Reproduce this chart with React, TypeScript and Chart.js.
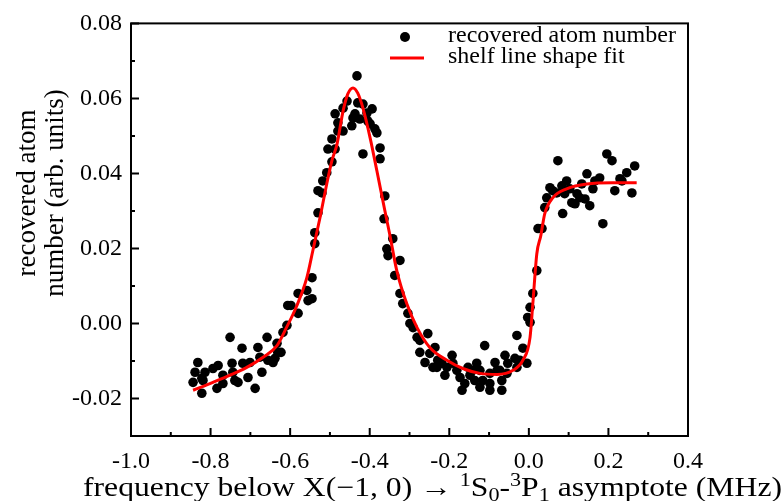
import React, { useEffect, useRef } from "react";
import { Chart, registerables } from "chart.js";

Chart.register(...registerables);

const FONT = "'Liberation Serif', 'Times New Roman', serif";

// axis ticks
const xTickValues = [-1.0, -0.8, -0.6, -0.4, -0.2, 0.0, 0.2, 0.4];
const xMinorTicks = [-0.9, -0.7, -0.5, -0.3, -0.1, 0.1, 0.3];
const yTickValues = [-0.02, 0.0, 0.02, 0.04, 0.06, 0.08];
const yMinorTicks = [-0.03, -0.01, 0.01, 0.03, 0.05, 0.07];

// texts
const legendLabels = ["recovered atom number", "shelf line shape fit"];
const yTitleLines = ["recovered atom", "number (arb. units)"];

// measured data: frequency (MHz) and recovered atom number (arb. units)
const atomFreq = [
  -0.844, -0.839, -0.832, -0.822, -0.822, -0.819, -0.814, -0.794, -0.781, -0.784,
  -0.769, -0.769, -0.751, -0.746, -0.744, -0.739, -0.721, -0.719, -0.731, -0.701,
  -0.706, -0.688, -0.681, -0.676, -0.671, -0.658, -0.656, -0.643, -0.638, -0.633,
  -0.631, -0.623, -0.618, -0.608, -0.606, -0.598, -0.580, -0.580, -0.558, -0.555,
  -0.545, -0.545, -0.538, -0.538, -0.530, -0.530, -0.520, -0.518, -0.508, -0.495,
  -0.505, -0.487, -0.495, -0.480, -0.467, -0.480, -0.487, -0.467, -0.457, -0.445,
  -0.442, -0.437, -0.425, -0.432, -0.430, -0.417, -0.407, -0.394, -0.405, -0.399,
  -0.387, -0.382, -0.417, -0.374, -0.374, -0.362, -0.364, -0.342, -0.357, -0.354,
  -0.324, -0.337, -0.324, -0.317, -0.304, -0.299, -0.291, -0.281, -0.274, -0.254,
  -0.274, -0.261, -0.249, -0.236, -0.229, -0.231, -0.241, -0.219, -0.211, -0.206,
  -0.193, -0.191, -0.181, -0.173, -0.168, -0.161, -0.153, -0.148, -0.141, -0.136,
  -0.131, -0.123, -0.123, -0.116, -0.111, -0.098, -0.098, -0.098, -0.085, -0.080,
  -0.073, -0.068, -0.068, -0.060, -0.055, -0.053, -0.035, -0.030, -0.030, -0.023,
  -0.015, -0.005, -0.003, 0.003, 0.003, 0.010, 0.020, 0.023, 0.033, 0.040,
  0.045, 0.053, 0.060, 0.073, 0.070, 0.083, 0.085, 0.090, 0.095, 0.103,
  0.108, 0.116, 0.121, 0.128, 0.133, 0.141, 0.146, 0.153, 0.161, 0.166,
  0.178, 0.186, 0.196, 0.209, 0.216, 0.229, 0.234, 0.246, 0.259, 0.266,
];
const atomNumber = [
  -0.0157, -0.0130, -0.0104, -0.0146, -0.0186, -0.0152, -0.0130, -0.0120, -0.0112, -0.0173,
  -0.0138, -0.0160, -0.0037, -0.0106, -0.0130, -0.0152, -0.0066, -0.0106, -0.0157, -0.0104,
  -0.0144, -0.0173, -0.0064, -0.0090, -0.0130, -0.0037, -0.0098, -0.0104, -0.0093, -0.0053,
  -0.0077, -0.0077, -0.0024, -0.0005, 0.0048, 0.0048, 0.0027, 0.0080, 0.0088, 0.0061,
  0.0066, 0.0122, 0.0213, 0.0242, 0.0295, 0.0354, 0.0348, 0.0380, 0.0402, 0.0431,
  0.0465, 0.0465, 0.0492, 0.0513, 0.0513, 0.0535, 0.0559, 0.0574, 0.0593, 0.0527,
  0.0548, 0.0559, 0.0545, 0.0660, 0.0588, 0.0585, 0.0561, 0.0572, 0.0540, 0.0532,
  0.0519, 0.0508, 0.0452, 0.0468, 0.0439, 0.0340, 0.0279, 0.0226, 0.0199, 0.0181,
  0.0168, 0.0128, 0.0080, 0.0053, 0.0027, 0.0000, -0.0011, -0.0037, -0.0045, -0.0027,
  -0.0077, -0.0104, -0.0080, -0.0064, -0.0098, -0.0117, -0.0117, -0.0106, -0.0138, -0.0117,
  -0.0085, -0.0106, -0.0125, -0.0144, -0.0178, -0.0160, -0.0117, -0.0138, -0.0125, -0.0152,
  -0.0106, -0.0125, -0.0170, -0.0152, -0.0059, -0.0133, -0.0160, -0.0178, -0.0104, -0.0125,
  -0.0125, -0.0152, -0.0178, -0.0085, -0.0133, -0.0106, -0.0093, -0.0032, -0.0117, -0.0098,
  -0.0066, -0.0106, 0.0016, 0.0003, 0.0043, 0.0080, 0.0141, 0.0253, 0.0253, 0.0309,
  0.0335, 0.0362, 0.0354, 0.0434, 0.0348, 0.0367, 0.0293, 0.0346, 0.0380, 0.0359,
  0.0322, 0.0319, 0.0346, 0.0335, 0.0372, 0.0332, 0.0399, 0.0314, 0.0359, 0.0380,
  0.0388, 0.0266, 0.0452, 0.0434, 0.0354, 0.0386, 0.0380, 0.0402, 0.0348, 0.0420,
];

// fit curve
const fitFreq = [
  -0.844, -0.794, -0.751, -0.709, -0.668, -0.633, -0.613, -0.583, -0.558, -0.543,
  -0.525, -0.508, -0.495, -0.482, -0.467, -0.455, -0.442, -0.430, -0.417, -0.399,
  -0.382, -0.362, -0.349, -0.332, -0.307, -0.281, -0.249, -0.206, -0.166, -0.123,
  -0.080, -0.040, -0.015, 0.003, 0.010, 0.020, 0.030, 0.040, 0.060, 0.095,
  0.146, 0.211, 0.271,
];
const fitNumber = [
  -0.0178, -0.0157, -0.0138, -0.0117, -0.0090, -0.0059, -0.0019, 0.0048, 0.0122, 0.0194,
  0.0282, 0.0372, 0.0434, 0.0479, 0.0566, 0.0612, 0.0628, 0.0614, 0.0574, 0.0495,
  0.0407, 0.0301, 0.0234, 0.0141, 0.0053, -0.0011, -0.0064, -0.0098, -0.0120, -0.0133,
  -0.0136, -0.0125, -0.0098, -0.0037, 0.0053, 0.0186, 0.0234, 0.0293, 0.0335, 0.0359,
  0.0372, 0.0375, 0.0375,
];

type Seg = { t: string; k: "n" | "sup" | "sub" };
const xTitleSegs: Seg[] = [
  { t: "frequency below X(\u22121, 0) \u2192 ", k: "n" },
  { t: "1", k: "sup" },
  { t: "S", k: "n" },
  { t: "0", k: "sub" },
  { t: "-", k: "n" },
  { t: "3", k: "sup" },
  { t: "P", k: "n" },
  { t: "1", k: "sub" },
  { t: " asymptote (MHz)", k: "n" },
];

const decorPlugin = {
  id: "decor",
  afterDatasetsDraw(chart: any) {
    const { ctx, chartArea: a, scales } = chart;
    const xs = scales.x;
    const ys = scales.y;
    ctx.save();
    ctx.strokeStyle = "#000";
    ctx.lineWidth = 2;
    ctx.strokeRect(a.left, a.top, a.right - a.left, a.bottom - a.top);
    ctx.beginPath();
    xTickValues.forEach((v) => {
      const p = xs.getPixelForValue(v);
      ctx.moveTo(p, a.bottom);
      ctx.lineTo(p, a.bottom - 8);
    });
    xMinorTicks.forEach((v) => {
      const p = xs.getPixelForValue(v);
      ctx.moveTo(p, a.bottom);
      ctx.lineTo(p, a.bottom - 4);
    });
    yTickValues.forEach((v) => {
      const p = ys.getPixelForValue(v);
      ctx.moveTo(a.left, p);
      ctx.lineTo(a.left + 8, p);
    });
    yMinorTicks.forEach((v) => {
      const p = ys.getPixelForValue(v);
      ctx.moveTo(a.left, p);
      ctx.lineTo(a.left + 4, p);
    });
    ctx.stroke();

    // legend
    ctx.fillStyle = "#000";
    ctx.font = `24px ${FONT}`;
    ctx.textBaseline = "middle";
    ctx.textAlign = "left";
    ctx.beginPath();
    ctx.arc(405, 37, 5, 0, Math.PI * 2);
    ctx.fill();
    ctx.fillText(legendLabels[0], 448, 36);
    ctx.strokeStyle = "#ff0000";
    ctx.lineWidth = 3;
    ctx.beginPath();
    ctx.moveTo(390, 58);
    ctx.lineTo(424, 58);
    ctx.stroke();
    ctx.fillText(legendLabels[1], 448, 57);

    // y title
    ctx.save();
    ctx.translate(28, 193);
    ctx.rotate(-Math.PI / 2);
    ctx.textAlign = "center";
    ctx.font = `27px ${FONT}`;
    ctx.fillText(yTitleLines[0], 0, 0);
    ctx.fillText(yTitleLines[1], 0, 28);
    ctx.restore();

    // x title with super/subscripts, stretched to span x 83..782
    const big = 27;
    const small = big * 0.7;
    let total = 0;
    xTitleSegs.forEach((s) => {
      ctx.font = `${s.k === "n" ? big : small}px ${FONT}`;
      total += ctx.measureText(s.t).width;
    });
    const sx = 699 / total;
    ctx.save();
    ctx.translate(83, 496);
    ctx.scale(sx, 1);
    ctx.textBaseline = "alphabetic";
    ctx.textAlign = "left";
    let cx = 0;
    xTitleSegs.forEach((s) => {
      ctx.font = `${s.k === "n" ? big : small}px ${FONT}`;
      const dy = s.k === "sup" ? -big * 0.38 : s.k === "sub" ? big * 0.2 : 0;
      ctx.fillText(s.t, cx, dy);
      cx += ctx.measureText(s.t).width;
    });
    ctx.restore();
    ctx.restore();
  },
};

export default function App() {
  const ref = useRef<HTMLCanvasElement>(null);
  useEffect(() => {
    document.body.style.margin = "0";
    const canvas = ref.current!;
    const chart = new Chart(canvas, {
      type: "scatter",
      data: {
        datasets: [
          {
            label: legendLabels[1],
            data: fitFreq.map((x, i) => ({ x, y: fitNumber[i] })),
            showLine: true,
            borderColor: "#ff0000",
            borderWidth: 3,
            pointRadius: 0,
            cubicInterpolationMode: "monotone",
            order: 0,
          } as any,
          {
            label: legendLabels[0],
            data: atomFreq.map((x, i) => ({ x, y: atomNumber[i] })),
            backgroundColor: "#000",
            borderColor: "#000",
            pointRadius: 4.8,
            borderWidth: 0,
            order: 1,
          },
        ],
      },
      options: {
        responsive: false,
        animation: false,
        layout: { padding: { top: 22, right: 95, left: 0, bottom: 0 } },
        plugins: { legend: { display: false }, tooltip: { enabled: false } },
        scales: {
          x: {
            type: "linear",
            min: -1.0,
            max: 0.4,
            afterBuildTicks: (s: any) => {
              s.ticks = xTickValues.map((value) => ({ value }));
            },
            afterFit: (s: any) => {
              s.height = 65;
            },
            grid: { display: false, drawTicks: false },
            border: { display: false },
            ticks: {
              color: "#000",
              font: { family: FONT, size: 24 },
              padding: 11,
              maxRotation: 0,
              autoSkip: false,
              callback: (v: any) => Number(v).toFixed(1),
            },
          },
          y: {
            type: "linear",
            min: -0.03,
            max: 0.08,
            afterBuildTicks: (s: any) => {
              s.ticks = yTickValues.map((value) => ({ value }));
            },
            afterFit: (s: any) => {
              s.width = 131;
            },
            grid: { display: false, drawTicks: false },
            border: { display: false },
            ticks: {
              color: "#000",
              font: { family: FONT, size: 24 },
              padding: 9,
              autoSkip: false,
              callback: (v: any) => Number(v).toFixed(2),
            },
          },
        },
      },
      plugins: [decorPlugin],
    });
    return () => chart.destroy();
  }, []);
  return (
    <div style={{ width: 783, height: 501 }}>
      <canvas ref={ref} width={783} height={501} />
    </div>
  );
}
